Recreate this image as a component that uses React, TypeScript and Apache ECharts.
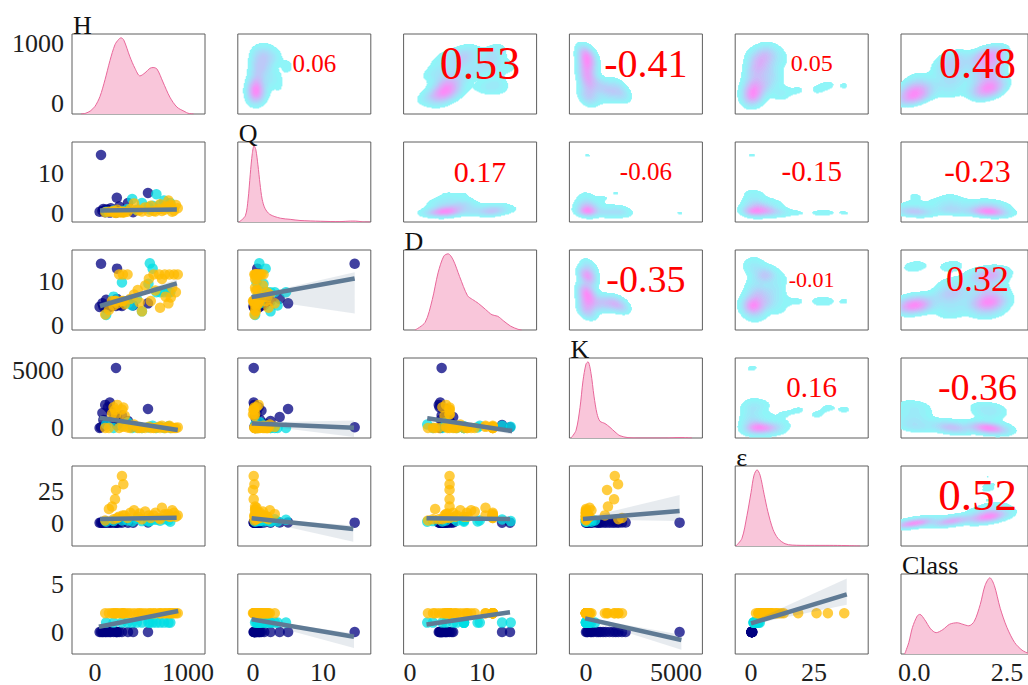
import React, { useEffect, useRef } from "react";
import * as echarts from "echarts";

// ---------- variables ----------
const VAR_NAMES = ["H", "Q", "D", "K", "ε", "Class"];

// ---------- samples ----------
const H = [
  65, 237, 226, 570, 235, 355, 50, 80, 110, 140, 170, 200, 260, 290, 120, 410, 160, 90,
  590, 290, 575, 660, 700, 742, 790, 810, 505, 120, 350, 450, 400, 620, 200,
  290, 305, 226, 215, 183, 260, 300, 350, 630, 690, 750, 800, 850, 890, 815, 505, 790, 110,
  200, 240, 320, 380, 420, 460, 540, 580, 600, 650, 700, 720, 760, 830, 870, 150, 480,
];
const Q = [
  14.5, 0.6, 0.1, 5.0, 3.8, 2.5, 0.3, 0.5, 0.2, 0.8, 1.2, 0.4, 1.6, 0.3, 0.9, 0.2, 0.1, 1.0,
  0.9, 0.5, 1.5, 4.7, 2.0, 3.1, 1.2, 2.5, 2.5, 0.3, 1.0, 0.8, 3.5, 1.8, 0.6,
  0.1, 0.2, 0.0, 0.1, 0.3, 0.2, 0.4, 0.3, 0.5, 1.0, 0.8, 1.5, 0.6, 1.2, 2.0, 0.4, 3.1, 0.2,
  0.5, 0.8, 0.2, 1.0, 2.4, 0.6, 1.4, 0.3, 1.8, 0.4, 2.2, 0.5, 1.6, 0.3, 2.0, 0.3, 0.8,
];
const D = [
  13.9, 12.8, 4.4, 5.0, 6.0, 5.5, 4.2, 5.0, 4.0, 4.1, 4.8, 5.2, 4.6, 4.4, 5.8, 4.5, 4.2, 4.3,
  14.0, 9.7, 9.4, 7.5, 7.5, 7.5, 7.5, 7.5, 3.2, 2.4, 5.0, 6.0, 4.5, 12.8, 6.5,
  5.5, 5.5, 5.5, 5.5, 5.5, 11.5, 11.5, 11.5, 11.5, 11.5, 11.5, 11.5, 11.5, 11.5, 6.3, 3.2, 5.0, 2.5,
  4.5, 5.0, 4.8, 6.0, 7.0, 8.0, 9.0, 10.5, 5.5, 7.9, 4.0, 10.5, 6.5, 8.5, 7.5, 3.5, 5.2,
];
const K = [
  60, 250, 5200, 1650, 950, 600, 0, 1300, 2000, 1800, 1500, 800, 400, 1100, 300, 100, 2200, 700,
  100, 200, 50, 0, 100, 0, 150, 0, 0, 300, 500, 50, 0, 200, 0,
  1600, 1780, 1170, 1560, 1220, 0, 100, 50, 0, 100, 0, 200, 0, 50, 0, 0, 100, 0,
  1800, 2000, 1050, 0, 300, 0, 0, 100, 0, 0, 0, 200, 0, 0, 0, 0, 0,
];
const E = [
  0.3, 0.3, 0.3, 0.5, 0.4, 0.3, 0.2, 0.3, 0.4, 0.3, 0.2, 0.3, 0.5, 0.2, 0.4, 0.3, 0.4, 0.2,
  1.5, 2.0, 1.2, 2.5, 1.8, 3.0, 2.2, 1.0, 1.5, 1.0, 2.0, 3.5, 1.2, 2.8, 1.6,
  37, 30.5, 26, 18.7, 13, 5, 6, 4, 6, 4, 7, 5, 8, 6, 5, 3, 7, 2,
  3, 4, 6, 8, 10, 5, 9, 6, 4, 8, 3, 12, 6, 10, 5, 11, 7.5,
];
const CLASS = [
  0, 0, 0, 0, 0, 0, 0, 0, 0, 0, 0, 0, 0, 0, 0, 0, 0, 0,
  1, 1, 1, 1, 1, 1, 1, 1, 1, 1, 1, 1, 1, 1, 1,
  2, 2, 2, 2, 2, 2, 2, 2, 2, 2, 2, 2, 2, 2, 2, 2, 2, 2,
  2, 2, 2, 2, 2, 2, 2, 2, 2, 2, 2, 2, 2, 2, 2, 2, 2,
];
const COLUMNS = [H, Q, D, K, E, CLASS];

// ---------- axes ----------
const X_TICKS = [[0, 1000], [0, 10], [0, 10], [0, 5000], [0, 25], [0, 2.5]];
const Y_TICKS = [[0, 1000], [0, 10], [0, 10], [0, 5000], [0, 25], [0, 5]];
const X_LIMITS = [[-247, 1183], [-2.17, 16.8], [-0.89, 17.6], [-922, 6467], [-6.27, 46.5], [-0.36, 3.07]];
const Y_LIMITS = [[-183, 1150], [-2.25, 17.75], [-1.0, 17.0], [-867, 6066], [-18.1, 44.9], [-2.34, 6.17]];

// ---------- diagonal densities (relative) ----------
const KDE_H = [[-150, 0], [-100, 0.01], [-50, 0.04], [0, 0.1], [54, 0.23], [108, 0.45], [161, 0.7], [215, 0.91], [255, 0.98], [280, 1.0], [310, 0.97], [376, 0.75], [430, 0.6], [484, 0.5], [538, 0.54], [591, 0.6], [625, 0.61], [667, 0.59], [731, 0.42], [806, 0.22], [882, 0.09], [968, 0.03], [1000, 0.01], [1060, 0]];
const KDE_Q = [[-2, 0], [-1.1, 0.08], [-0.7, 0.3], [-0.4, 0.62], [-0.1, 0.9], [0.15, 1.0], [0.4, 0.95], [0.7, 0.75], [1.0, 0.5], [1.3, 0.3], [1.7, 0.18], [2.4, 0.1], [3.9, 0.05], [5.3, 0.035], [6.7, 0.02], [9.6, 0.01], [12.4, 0.005], [13.9, 0.012], [14.6, 0.012], [15.6, 0.003], [16.7, 0]];
const KDE_D = [[0.7, 0], [2.1, 0.1], [3.1, 0.4], [3.9, 0.75], [4.7, 0.97], [5.3, 1.0], [6.0, 0.92], [6.9, 0.7], [8.0, 0.45], [8.7, 0.4], [9.5, 0.35], [10.5, 0.27], [11.4, 0.2], [12.2, 0.18], [13.0, 0.12], [14.0, 0.05], [15.0, 0.01], [15.5, 0]];
const KDE_K = [[-833, 0], [-555, 0.1], [-333, 0.4], [-167, 0.75], [0, 0.97], [111, 1.0], [278, 0.85], [444, 0.55], [611, 0.32], [778, 0.22], [1055, 0.19], [1333, 0.14], [1611, 0.08], [1889, 0.03], [2333, 0.005], [3000, 0], [4500, 0], [4944, 0.005], [5389, 0.006], [5889, 0]];
const KDE_E = [[-6, 0], [-3.6, 0.1], [-1.6, 0.4], [0, 0.7], [1.2, 0.93], [2.4, 1.0], [3.6, 0.93], [5.2, 0.68], [6.7, 0.45], [8.7, 0.22], [10.7, 0.1], [13.5, 0.03], [16.3, 0.012], [23.4, 0.008], [31.3, 0.008], [37.3, 0.006], [43.3, 0]];
const KDE_C = [[-0.26, 0], [-0.15, 0.15], [-0.05, 0.35], [0.08, 0.5], [0.15, 0.52], [0.28, 0.45], [0.44, 0.33], [0.59, 0.28], [0.77, 0.32], [0.95, 0.39], [1.16, 0.41], [1.31, 0.39], [1.47, 0.37], [1.62, 0.43], [1.78, 0.65], [1.91, 0.9], [2.04, 1.0], [2.16, 0.9], [2.32, 0.6], [2.5, 0.35], [2.71, 0.15], [2.91, 0.05], [3.07, 0.01]];
const KDE_DIAG = [KDE_H, KDE_Q, KDE_D, KDE_K, KDE_E, KDE_C];

// ---------- correlations (upper triangle, row-major) ----------
const CORR = [0.06, 0.53, -0.41, 0.05, 0.48, 0.17, -0.06, -0.15, -0.23, -0.35, -0.01, 0.32, 0.16, -0.36, 0.52];

// ---------- regression lines [row, col, x0, y0, x1, y1] ----------
const REG_LINES = [
  [1, 0, 54, 0.6, 880, 0.9],
  [2, 0, 54, 4.4, 880, 9.5],
  [2, 1, -0.2, 6.4, 14.5, 10.6],
  [3, 0, 50, 890, 890, -170],
  [3, 1, -0.2, 400, 14.4, 30],
  [3, 2, 2.4, 840, 14.2, -260],
  [4, 0, 54, 3.1, 878, 4.2],
  [4, 1, -0.2, 3.7, 14.3, -4.7],
  [4, 2, 2.3, 3.7, 13.9, 3.2],
  [4, 3, -170, 3.2, 5200, 9.5],
  [5, 0, 42, 0.56, 895, 2.23],
  [5, 1, -0.2, 1.35, 14.4, -0.5],
  [5, 2, 2.3, 0.8, 13.9, 2.1],
  [5, 3, -50, 1.45, 5300, -0.85],
  [5, 4, 0, 0.92, 38, 4.0],
];
// ---------- confidence bands [row, col, [[x, lo, hi], ...]] ----------
const REG_BANDS: [number, number, number[][]][] = [
  [1, 0, [[54, 0.2, 1.0], [450, 0.55, 0.95], [880, 0.4, 1.4]]],
  [2, 0, [[54, 3.6, 5.2], [450, 6.6, 7.3], [880, 8.6, 10.4]]],
  [2, 1, [[-0.2, 6.1, 6.7], [14.5, 2.7, 12.0]]],
  [3, 0, [[50, 700, 1080], [450, 280, 480], [890, -400, 60]]],
  [3, 1, [[-0.2, 330, 470], [14.4, -780, 650]]],
  [3, 2, [[2.4, 650, 1030], [7, 330, 480], [14.2, -550, 30]]],
  [4, 0, [[54, 2.2, 4.0], [450, 3.3, 4.0], [878, 3.2, 5.2]]],
  [4, 1, [[-0.2, 3.2, 4.3], [14.3, -14.7, -2.0]]],
  [4, 2, [[2.3, 2.6, 4.8], [7, 3.1, 4.1], [13.9, 1.8, 4.6]]],
  [4, 3, [[-170, 2.7, 3.8], [5200, 1.6, 22]]],
  [5, 0, [[42, 0.42, 0.7], [450, 1.3, 1.42], [895, 2.08, 2.38]]],
  [5, 1, [[-0.2, 1.25, 1.45], [14.4, -1.7, -0.15]]],
  [5, 2, [[2.3, 0.62, 0.98], [7, 1.28, 1.42], [13.9, 1.85, 2.35]]],
  [5, 3, [[-50, 1.35, 1.55], [5300, -1.9, -0.3]]],
  [5, 4, [[0, 0.8, 1.05], [38, 2.9, 5.7]]],
];

// ---------- styles / layout ----------
const CLASS_COLORS = ["#000080", "#00dde3", "#ffbb00"];
const SERIF = "'Liberation Serif', 'Times New Roman', serif";
const LEFT0 = 72, COL_STEP = 165.8, TOP0 = 34, ROW_STEP = 108, PW = 133, PH = 80;
const NL = 20;
const BW_ADJUST = 0.74;
const THRESH = 0.08;

function levelColor(lev: number) {
  const t = (lev + 0.5) / NL;
  const A = 0.45;
  const r = Math.round(250 * (1 - A + A * t) + 3);
  const g = Math.round(246 * (1 - A + A * (1 - t)) + 2);
  return `rgb(${r},${g},248)`;
}
const LEVEL_COLORS = Array.from({ length: NL }, (_, i) => levelColor(i));

// 2-D gaussian KDE (Scott's rule, full covariance) evaluated on a cell grid, returned as runs
function kdeRuns(xs: number[], ys: number[], xr: number[], yr: number[]) {
  const n = xs.length;
  let mx = 0, my = 0;
  for (let k = 0; k < n; k++) { mx += xs[k]; my += ys[k]; }
  mx /= n; my /= n;
  let cxx = 0, cyy = 0, cxy = 0;
  for (let k = 0; k < n; k++) {
    const ex = xs[k] - mx, ey = ys[k] - my;
    cxx += ex * ex; cyy += ey * ey; cxy += ex * ey;
  }
  cxx /= n - 1; cyy /= n - 1; cxy /= n - 1;
  const f2 = Math.pow(n, -1 / 3) * BW_ADJUST * BW_ADJUST;
  const a = cxx * f2, b = cxy * f2, d = cyy * f2;
  const det = a * d - b * b;
  const ia = d / det, ib = -b / det, id = a / det;
  const NX = PW, NY = PH;
  const dx = (xr[1] - xr[0]) / NX, dy = (yr[1] - yr[0]) / NY;
  const dens = new Float64Array(NX * NY);
  let total = 0;
  for (let j = 0; j < NY; j++) {
    const py = yr[0] + (j + 0.5) * dy;
    for (let i = 0; i < NX; i++) {
      const px = xr[0] + (i + 0.5) * dx;
      let s = 0;
      for (let k = 0; k < n; k++) {
        const ex = px - xs[k], ey = py - ys[k];
        s += Math.exp(-0.5 * (ia * ex * ex + 2 * ib * ex * ey + id * ey * ey));
      }
      dens[j * NX + i] = s;
      total += s;
    }
  }
  const sorted = Array.from(dens).sort((p, q) => q - p);
  let cum = 0, thr = sorted[sorted.length - 1];
  for (const v of sorted) { cum += v; if (cum / total >= 1 - THRESH) { thr = v; break; } }
  const maxD = sorted[0];
  const lvl = (v: number) => Math.min(NL - 1, Math.floor(((v - thr) / (maxD - thr)) * NL));
  const runs: number[][] = [];
  for (let j = 0; j < NY; j++) {
    let i = 0;
    while (i < NX) {
      const v = dens[j * NX + i];
      if (v < thr) { i++; continue; }
      const lev = lvl(v);
      let i2 = i + 1;
      while (i2 < NX) {
        const v2 = dens[j * NX + i2];
        if (v2 < thr || lvl(v2) !== lev) break;
        i2++;
      }
      runs.push([xr[0] + i * dx, xr[0] + i2 * dx, yr[0] + j * dy, yr[0] + (j + 1) * dy, lev]);
      i = i2;
    }
  }
  return runs;
}

function buildOption() {
  const grids: any[] = [], xAxes: any[] = [], yAxes: any[] = [], series: any[] = [], graphics: any[] = [];
  const colLeft = (c: number) => LEFT0 + c * COL_STEP;
  const rowTop = (r: number) => TOP0 + r * ROW_STEP;
  const labelStyle = { fontFamily: SERIF, fontSize: 26, color: "#1e1e1e" };

  for (let r = 0; r < 6; r++) {
    for (let c = 0; c < 6; c++) {
      const gi = r * 6 + c;
      grids.push({ left: colLeft(c), top: rowTop(r), width: PW, height: PH, show: true, borderColor: "#5e5e5e", borderWidth: 1, backgroundColor: "transparent" });
      xAxes.push({
        type: "value", gridIndex: gi, min: X_LIMITS[c][0], max: X_LIMITS[c][1],
        axisLine: { show: false }, axisTick: { show: false }, splitLine: { show: false },
        axisLabel: { show: r === 5, customValues: X_TICKS[c], margin: 5, ...labelStyle, formatter: (v: number) => (c === 5 ? v.toFixed(1) : String(v)) },
      });
      yAxes.push({
        type: "value", gridIndex: gi, min: Y_LIMITS[r][0], max: Y_LIMITS[r][1],
        axisLine: { show: false }, axisTick: { show: false }, splitLine: { show: false },
        axisLabel: { show: c === 0, customValues: Y_TICKS[r], margin: 8, ...labelStyle, formatter: (v: number) => String(v) },
      });
    }
  }
  // density axes for diagonal
  for (let i = 0; i < 6; i++) {
    yAxes.push({ type: "value", gridIndex: i * 6 + i, min: 0, max: 1.05, show: false });
  }

  let corrIdx = 0;
  for (let r = 0; r < 6; r++) {
    for (let c = 0; c < 6; c++) {
      const gi = r * 6 + c;
      if (r === c) {
        series.push({
          type: "line", xAxisIndex: gi, yAxisIndex: 36 + r, data: KDE_DIAG[r], symbol: "none", smooth: 0.3, silent: true,
          lineStyle: { color: "#e8679a", width: 1 }, areaStyle: { color: "#f9c6da", opacity: 1 }, z: 2,
        });
        graphics.push({
          type: "text", x: colLeft(c) + 1, y: rowTop(r) + 4, z: 100,
          style: { text: VAR_NAMES[r], font: `26px ${SERIF}`, fill: "#111", align: "left", verticalAlign: "bottom", textAlign: "left", textVerticalAlign: "bottom" },
        });
      } else if (r > c) {
        for (let k = 0; k < 3; k++) {
          const data: number[][] = [];
          for (let s = 0; s < CLASS.length; s++) if (CLASS[s] === k) data.push([COLUMNS[c][s], COLUMNS[r][s]]);
          series.push({ type: "scatter", xAxisIndex: gi, yAxisIndex: gi, data, symbolSize: 10.5, silent: true, itemStyle: { color: CLASS_COLORS[k], opacity: 0.75 }, z: 2 });
        }
        const band = REG_BANDS.find((b) => b[0] === r && b[1] === c);
        if (band) {
          const pts = band[2];
          series.push({
            type: "custom", xAxisIndex: gi, yAxisIndex: gi, data: [[pts[0][0], pts[0][1]]], clip: true, silent: true, z: 3,
            renderItem: (_p: any, api: any) => {
              const up = pts.map((p) => api.coord([p[0], p[2]]));
              const lo = pts.map((p) => api.coord([p[0], p[1]])).reverse();
              return { type: "polygon", shape: { points: up.concat(lo) }, style: { fill: "rgba(95,122,148,0.15)" } };
            },
          });
        }
        const ln = REG_LINES.find((l) => l[0] === r && l[1] === c);
        if (ln) {
          series.push({
            type: "line", xAxisIndex: gi, yAxisIndex: gi, data: [[ln[2], ln[3]], [ln[4], ln[5]]], symbol: "none", silent: true,
            lineStyle: { color: "#5f7a94", width: 4.5 }, z: 4,
          });
        }
      } else {
        const runs = kdeRuns(COLUMNS[c], COLUMNS[r], X_LIMITS[c], Y_LIMITS[r]);
        series.push({
          type: "custom", xAxisIndex: gi, yAxisIndex: gi, data: runs, clip: true, silent: true, z: 1,
          encode: { x: [0, 1], y: [2, 3] },
          renderItem: (_p: any, api: any) => {
            const p0 = api.coord([api.value(0), api.value(3)]);
            const p1 = api.coord([api.value(1), api.value(2)]);
            return {
              type: "rect",
              shape: { x: p0[0], y: p0[1], width: p1[0] - p0[0] + 0.5, height: p1[1] - p0[1] + 0.5 },
              style: { fill: LEVEL_COLORS[api.value(4)] },
            };
          },
        });
        const rv = CORR[corrIdx++];
        const size = Math.round(22 + 45 * Math.abs(rv));
        graphics.push({
          type: "text", x: colLeft(c) + PW / 2 + 10, y: rowTop(r) + 29, z: 100,
          style: { text: rv.toFixed(2), font: `${size}px ${SERIF}`, fill: "#ff0000", align: "center", verticalAlign: "middle", textAlign: "center", textVerticalAlign: "middle" },
        });
      }
    }
  }

  return { animation: false, backgroundColor: "#ffffff", grid: grids, xAxis: xAxes, yAxis: yAxes, series, graphic: graphics };
}

export default function App() {
  const ref = useRef<HTMLDivElement>(null);
  useEffect(() => {
    if (!ref.current) return;
    const chart = echarts.init(ref.current, undefined, { renderer: "svg" });
    chart.setOption(buildOption() as any);
    return () => chart.dispose();
  }, []);
  return <div ref={ref} style={{ position: "absolute", left: 0, top: 0, width: 1028, height: 685, background: "#fff" }} />;
}
